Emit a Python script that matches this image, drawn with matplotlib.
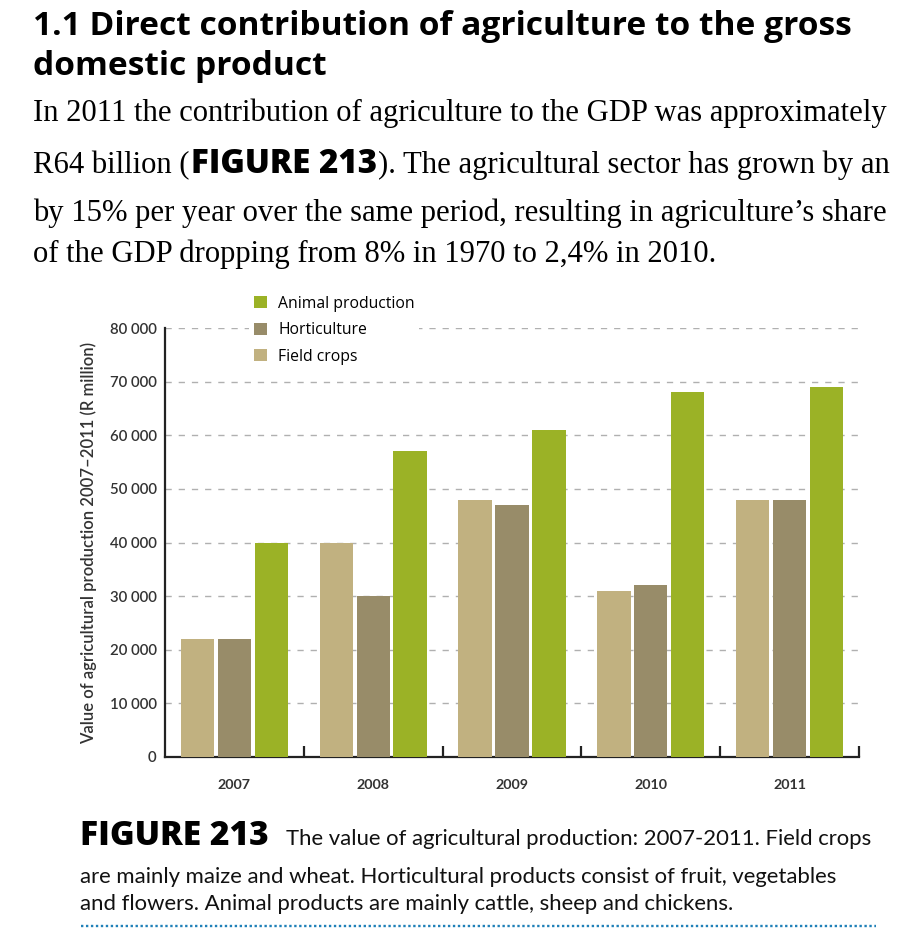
import matplotlib
matplotlib.use("Agg")
import matplotlib.pyplot as plt
from matplotlib import font_manager
from matplotlib.lines import Line2D
import numpy as np

# ---------------- data ----------------
years = ["2007", "2008", "2009", "2010", "2011"]
field_crops = [22000, 40000, 48000, 31000, 48000]
horticulture = [22000, 30000, 47000, 32000, 48000]
animal_production = [40000, 57000, 61000, 68000, 69000]
series_labels = ["Field crops", "Horticulture", "Animal production"]
y_ticks = [0, 10000, 20000, 30000, 40000, 50000, 60000, 70000, 80000]
y_tick_labels = ["0", "10 000", "20 000", "30 000", "40 000", "50 000", "60 000", "70 000", "80 000"]

title_lines = ["1.1 Direct contribution of agriculture to the gross", "domestic product"]
body_line1 = "In 2011 the contribution of agriculture to the GDP was approximately"
body_line2 = ["R64 billion (", "FIGURE 213", "). The agricultural sector has grown by an"]
body_line3 = "by 15% per year over the same period, resulting in agriculture\u2019s share"
body_line4 = "of the GDP dropping from 8% in 1970 to 2,4% in 2010."
caption_head = "FIGURE 213"
caption_lines = ["The value of agricultural production: 2007-2011. Field crops",
                 "are mainly maize and wheat. Horticultural products consist of fruit, vegetables",
                 "and flowers. Animal products are mainly cattle, sheep and chickens."]
ylabel = "Value of agricultural production 2007\u20132011 (R million)"

colors = ["#C1B180", "#988C69", "#9BB226"]

# ---------------- fonts ----------------
avail = {f.name for f in font_manager.fontManager.ttflist}
def pick(*names):
    for n in names:
        if n in avail:
            return n
    return "DejaVu Sans"
SANS = pick("Open Sans", "Lato", "DejaVu Sans")
SANS2 = pick("Lato", "Open Sans", "DejaVu Sans")
SERIF = pick("Liberation Serif", "DejaVu Serif")
NARROW = pick("Liberation Sans Narrow", "Lato", "Roboto")

W, H = 905, 938
fig = plt.figure(figsize=(W / 100, H / 100), dpi=100)
fig.patch.set_facecolor("white")
renderer = fig.canvas.get_renderer()

def fx(px):
    return px / W
def fy(py):
    return 1 - py / H

def width_at(s, family, weight, size):
    t = fig.text(0, 0, s, family=family, weight=weight, fontsize=size)
    w = t.get_window_extent(renderer).width
    t.remove()
    return w

def fit_size(s, family, weight, target):
    return 20 * target / width_at(s, family, weight, 20)

def put(x, y, s, family, weight, size, color="black", **kw):
    t = fig.text(fx(x), fy(y), s, family=family, weight=weight, fontsize=size,
                 color=color, va="baseline", ha="left", **kw)
    return t.get_window_extent(renderer).x1

# ---------------- header text ----------------
ts = fit_size(title_lines[0], SANS, "bold", 817)
put(33, 35, title_lines[0], SANS, "bold", ts)
put(33, 75, title_lines[1], SANS, "bold", ts)

bs = fit_size(body_line1, SERIF, "normal", 855)
put(33, 121, body_line1, SERIF, "normal", bs)
x = put(33, 173, body_line2[0], SERIF, "normal", bs)
fsz = fit_size(body_line2[1], SANS, "heavy", 186)
x = put(x + 1, 173, body_line2[1], SANS, "heavy", fsz)
rest_w = width_at(body_line2[2], SERIF, "normal", bs)
rest_size = bs * min(1.0, (896 - x - 1) / rest_w)
put(x + 1, 173, body_line2[2], SERIF, "normal", rest_size)
put(33, 221, body_line3, SERIF, "normal", bs)
put(33, 262, body_line4, SERIF, "normal", bs)

# ---------------- chart ----------------
ax = fig.add_axes([fx(165), fy(757), fx(859) - fx(165), (757 - 328) / H])
xpos = np.arange(len(years))
off = 0.266
bw = 0.24
series = [field_crops, horticulture, animal_production]
bars = []
for k, (vals, lab, c) in enumerate(zip(series, series_labels, colors)):
    b = ax.bar(xpos + (k - 1) * off, vals, width=bw, color=c, label=lab, zorder=3)
    bars.append(b)

ax.set_xlim(-0.5, len(years) - 0.5)
ax.set_ylim(0, 80000)
ax.set_yticks(y_ticks)
ax.set_yticklabels(y_tick_labels, family=SANS2, fontsize=10.8, color="#333333", weight="semibold")
ax.tick_params(axis="y", length=0, pad=6)
ax.yaxis.grid(True, color="#b0b0b0", linewidth=1.0, dashes=(4.5, 5), zorder=0)
ax.set_axisbelow(True)

ax.set_xticks(list(np.arange(len(years)) + 0.5))
ax.set_xticklabels([])
ax.set_xticks(xpos, minor=True)
ax.set_xticklabels(years, minor=True, family=SANS2, fontsize=10.3, color="#333333", weight="bold")
ax.tick_params(axis="x", which="major", direction="in", length=8, width=1.6, color="#222222")
ax.tick_params(axis="x", which="minor", length=0, pad=16)

for s in ["top", "right"]:
    ax.spines[s].set_visible(False)
for s in ["left", "bottom"]:
    ax.spines[s].set_linewidth(1.6)
    ax.spines[s].set_color("#222222")

yls = fit_size(ylabel, SANS2, "semibold", 400)
ax.set_ylabel(ylabel, family=SANS2, fontsize=yls, color="#333333", weight="semibold", labelpad=9)

# legend (reverse order)
handles = [bars[2], bars[1], bars[0]]
labels = [series_labels[2], series_labels[1], series_labels[0]]
lfs = fit_size("Animal production", SANS, "normal", 136)
fig.legend(handles, labels, loc="upper left", bbox_to_anchor=(fx(249), fy(291)),
           frameon=True, facecolor="white", edgecolor="none", framealpha=1,
           handlelength=0.82, handleheight=0.82, handletextpad=0.72,
           labelspacing=0.66, borderpad=0.3, borderaxespad=0,
           prop={"family": SANS, "size": lfs})

# ---------------- caption ----------------
cs = fit_size(caption_head, SANS, "heavy", 188)
x = put(80, 845, caption_head, SANS, "heavy", cs)
ns = fit_size(caption_lines[1], NARROW, "normal", 760)
put(x + 17, 845, caption_lines[0], NARROW, "normal", ns, color="#111111")
put(80, 883, caption_lines[1], NARROW, "normal", ns, color="#111111")
put(80, 910, caption_lines[2], NARROW, "normal", ns, color="#111111")

fig.add_artist(Line2D([fx(81), fx(876)], [fy(926), fy(926)], color="#1f80b8",
                      linewidth=1.7, dashes=(1, 1.1), solid_capstyle="butt",
                      dash_capstyle="butt"))

fig.savefig("out.png", dpi=100, facecolor="white")
